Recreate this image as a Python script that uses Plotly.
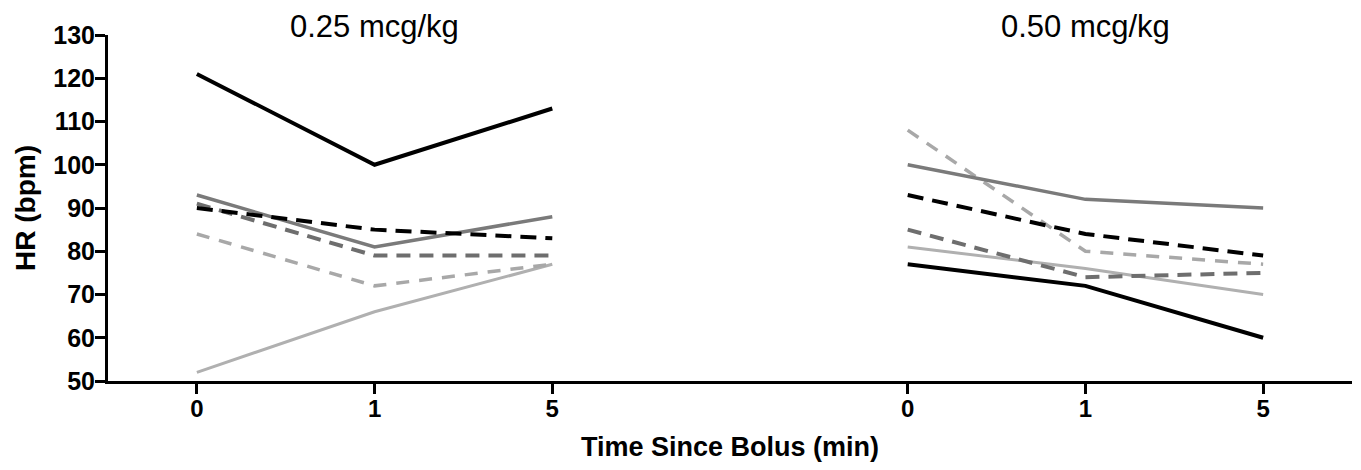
import plotly.graph_objects as go

# ---- data ----
time_labels = ["0", "1", "5"]
dose_groups = ["0.25 mcg/kg", "0.50 mcg/kg"]

# 0.25 mcg/kg group (HR, bpm) at 0, 1, 5 min
low_black_solid = [121, 100, 113]
low_gray_solid = [93, 81, 88]
low_black_dash = [90, 85, 83]
low_gray_dash = [91, 79, 79]
low_light_dash = [84, 72, 77]
low_light_solid = [52, 66, 77]

# 0.50 mcg/kg group (HR, bpm) at 0, 1, 5 min
high_light_dash = [108, 80, 77]
high_gray_solid = [100, 92, 90]
high_black_dash = [93, 84, 79]
high_gray_dash = [85, 74, 75]
high_light_solid = [81, 76, 70]
high_black_solid = [77, 72, 60]

y_ticks = [50, 60, 70, 80, 90, 100, 110, 120, 130]

# positions of each group's categories on a shared axis
low_x = [0, 1, 2]
high_x = [4, 5, 6]

styles = {
    "black_solid": dict(color="#000000", width=4, dash="solid"),
    "gray_solid": dict(color="#7a7a7a", width=3.5, dash="solid"),
    "black_dash": dict(color="#000000", width=4, dash="16px,9px"),
    "gray_dash": dict(color="#6e6e6e", width=4, dash="14px,9px"),
    "light_dash": dict(color="#a8a8a8", width=3.5, dash="13px,10px"),
    "light_solid": dict(color="#b0b0b0", width=3, dash="solid"),
}

series = [
    (low_x, low_light_solid, "light_solid"),
    (low_x, low_light_dash, "light_dash"),
    (low_x, low_gray_dash, "gray_dash"),
    (low_x, low_gray_solid, "gray_solid"),
    (low_x, low_black_dash, "black_dash"),
    (low_x, low_black_solid, "black_solid"),
    (high_x, high_light_solid, "light_solid"),
    (high_x, high_light_dash, "light_dash"),
    (high_x, high_gray_dash, "gray_dash"),
    (high_x, high_gray_solid, "gray_solid"),
    (high_x, high_black_dash, "black_dash"),
    (high_x, high_black_solid, "black_solid"),
]

fig = go.Figure()
for xs, ys, st in series:
    fig.add_trace(go.Scatter(x=xs, y=ys, mode="lines", line=styles[st],
                             showlegend=False, hoverinfo="skip"))

font_family = "Liberation Sans, Arial, sans-serif"

# page body has an 8px margin, so the plot area is offset accordingly
fig.update_layout(
    width=1361, height=470,
    margin=dict(l=100, r=17, t=27, b=97),
    plot_bgcolor="white", paper_bgcolor="white",
    font=dict(family=font_family, color="black"),
    xaxis=dict(
        range=[-0.5, 6.5], automargin=False,
        tickvals=low_x + high_x,
        ticktext=time_labels + time_labels,
        showgrid=False, zeroline=False,
        showline=True, linecolor="black", linewidth=3,
        ticks="outside", ticklen=10, tickwidth=3, tickcolor="black",
        ticklabelstandoff=-6,
        tickfont=dict(size=24, weight="bold"),
    ),
    yaxis=dict(
        range=[50, 130], automargin=False,
        tickvals=y_ticks,
        showgrid=False, zeroline=False,
        showline=True, linecolor="black", linewidth=3,
        ticks="outside", ticklen=10, tickwidth=3, tickcolor="black",
        ticklabelstandoff=-5,
        tickfont=dict(size=25, weight="bold"),
    ),
)

plot_h = 346.0
plot_w = 1244.0

fig.add_annotation(x=0.5, y=(381 - 447) / plot_h, xref="paper", yref="paper",
                   text="Time Since Bolus (min)", showarrow=False,
                   xanchor="center", yanchor="middle",
                   font=dict(size=27, weight="bold", family=font_family))
fig.add_annotation(x=(25 - 108) / plot_w, y=0.5, xref="paper", yref="paper",
                   text="HR (bpm)", textangle=-90, showarrow=False,
                   xanchor="center", yanchor="middle",
                   font=dict(size=28, weight="bold", family=font_family))

for gx, name in zip([low_x[1], high_x[1]], dose_groups):
    fig.add_annotation(x=gx, y=(381 - 26) / plot_h, xref="x", yref="paper", text=name,
                       showarrow=False, font=dict(size=31, family=font_family),
                       yanchor="middle", xanchor="center")

fig.write_html("out.html")
